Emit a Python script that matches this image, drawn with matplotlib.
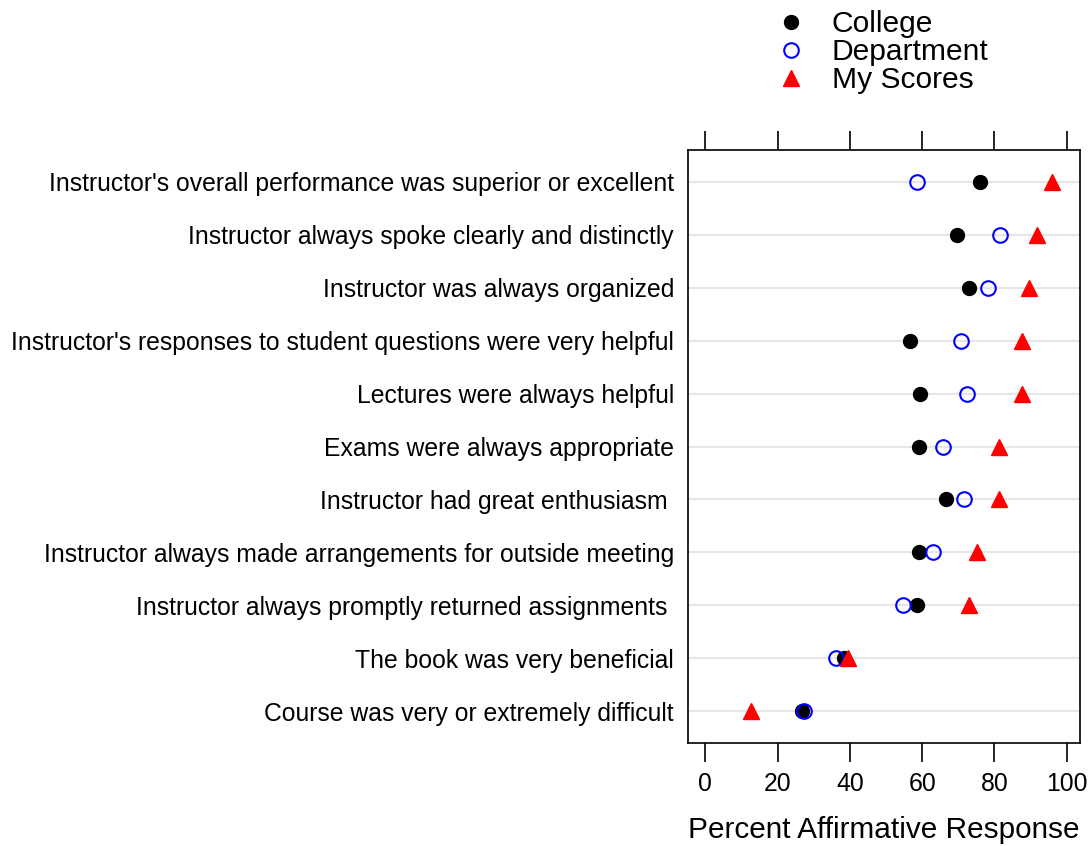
import numpy as np
import matplotlib
matplotlib.use("Agg")
import matplotlib.pyplot as plt
from matplotlib.lines import Line2D

plt.rcParams['font.family'] = ['Liberation Sans', 'DejaVu Sans']

# items, top to bottom
items = ["Instructor's overall performance was superior or excellent",
         "Instructor always spoke clearly and distinctly",
         "Instructor was always organized",
         "Instructor's responses to student questions were very helpful",
         "Lectures were always helpful",
         "Exams were always appropriate",
         "Instructor had great enthusiasm ",
         "Instructor always made arrangements for outside meeting",
         "Instructor always promptly returned assignments ",
         "The book was very beneficial",
         "Course was very or extremely difficult"]

college = [75.9, 69.6, 73.0, 56.5, 59.5, 59.0, 66.7, 59.1, 58.6, 38.4, 26.7]
department = [58.6, 81.5, 78.1, 70.7, 72.5, 65.7, 71.7, 63.0, 54.6, 36.2, 27.3]
my_scores = [95.8, 91.7, 89.5, 87.5, 87.5, 81.2, 81.2, 75.1, 73.0, 39.6, 12.5]

xticks = [0, 20, 40, 60, 80, 100]

fig = plt.figure(figsize=(10.91, 8.46), dpi=100)
ax = fig.add_axes([0.6306, 0.1217, 0.3594, 0.701])

n = len(items)
ypos = np.arange(n, 0, -1)

for y in ypos:
    ax.axhline(y, color='#e6e6e6', lw=1.5, zorder=0)

ax.plot(college, ypos, 'o', color='black', ms=10, ls='none', zorder=3)
ax.plot(department, ypos, 'o', mfc='none', mec='blue', mew=1.5, ms=10.5, ls='none', zorder=3)
ax.plot(my_scores, ypos, '^', color='red', ms=11.5, ls='none', zorder=3)

ax.set_xlim(-4.8, 103.7)
ax.set_ylim(0.4, 11.6)
ax.set_yticks(ypos)
ax.set_yticklabels(items, fontsize=17.8)
ax.tick_params(axis='y', length=0, pad=10)
ax.set_xticks(xticks)
ax.set_xticklabels([str(t) for t in xticks], fontsize=17.8)
ax.tick_params(axis='x', top=True, bottom=True, labeltop=False, direction='out',
               length=14, width=1.2, pad=7)
for s in ax.spines.values():
    s.set_linewidth(1.2)
ax.set_xlabel("Percent Affirmative Response", fontsize=21.4, labelpad=14)

handles = [Line2D([], [], marker='o', color='black', ls='none', ms=10),
           Line2D([], [], marker='o', mfc='none', mec='blue', mew=1.5, ls='none', ms=10.5),
           Line2D([], [], marker='^', color='red', ls='none', ms=11.5)]
fig.legend(handles, ["College", "Department", "My Scores"], loc='upper left',
           bbox_to_anchor=(0.680, 1.020), frameon=False, fontsize=21.6,
           labelspacing=0.0, handletextpad=0.6, handlelength=1.5)

fig.savefig("out.png", dpi=100)
